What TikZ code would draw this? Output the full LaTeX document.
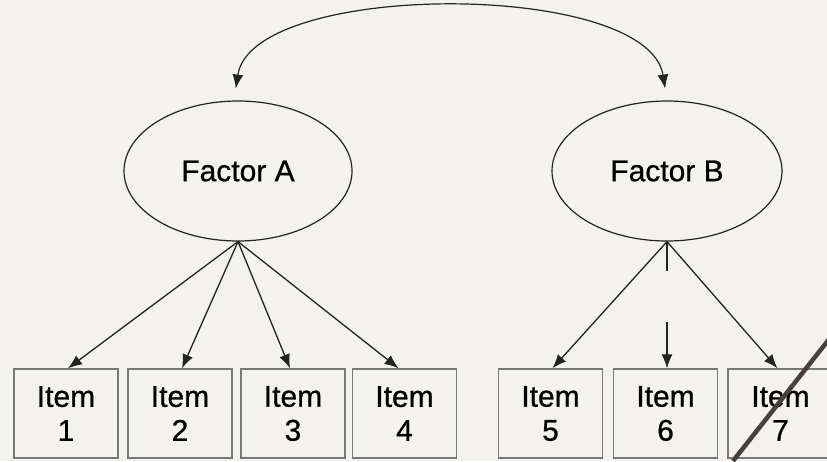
\documentclass[tikz,border=0pt]{standalone}
\usepackage{fontspec}
\setmainfont{Liberation Sans}
\newfontfamily\lblfont{Liberation Sans}[FakeBold=0.7]
\usetikzlibrary{arrows.meta,shapes.geometric}
\definecolor{bg}{RGB}{244,242,238}
\definecolor{ln}{RGB}{35,35,35}
\definecolor{bx}{RGB}{120,120,120}
\definecolor{slash}{RGB}{72,64,62}
\begin{document}
\begin{tikzpicture}[x=1pt,y=-1pt,
  factor/.style={ellipse,draw=ln,line width=1.2pt,minimum width=228pt,minimum height=140pt,inner sep=0pt,font=\lblfont\fontsize{30}{34}\selectfont},
  itembox/.style={rectangle,draw=bx,line width=1.4pt,fill=bg,minimum width=104pt,minimum height=89pt,inner sep=0pt,align=center,font=\lblfont\fontsize{30}{34}\selectfont},
  conn/.style={draw=ln,line width=1.3pt,-{Latex[length=14pt,width=11pt]}},
  plain/.style={draw=ln,line width=1.3pt}]
\fill[bg] (0,0) rectangle (827,461);
\useasboundingbox (0,0) rectangle (827,461);
\node[factor] (A) at (238,171) {Factor A};
\node[factor,minimum width=230pt] (B) at (667,171) {Factor B};
\node[itembox] (i1) at (66,413.5) {Item\\1};
\node[itembox] (i2) at (180,413.5) {Item\\2};
\node[itembox] (i3) at (293,413.5) {Item\\3};
\node[itembox] (i4) at (404.5,413.5) {Item\\4};
\node[itembox] (i5) at (550.5,413.5) {Item\\5};
\node[itembox] (i6) at (665.5,413.5) {Item\\6};
\node[itembox,minimum width=105pt] (i7) at (780.5,413.5) {Item\\7};
\draw[draw=ln,line width=1.2pt,{Latex[length=14pt,width=11pt]}-{Latex[length=14pt,width=11pt]},shorten <=12pt,shorten >=12pt]
  ([xshift=-4pt]A.north) .. controls (252,-20) and (648,-20) .. (B.north);
\draw[conn] (A.south) -- ([xshift=2pt]i1.north);
\draw[conn] (A.south) -- ([xshift=2pt]i2.north);
\draw[conn] (A.south) -- ([xshift=-3pt]i3.north);
\draw[conn] (A.south) -- ([xshift=-6pt]i4.north);
\draw[conn] (B.south) -- ([xshift=2pt]i5.north);
\coordinate (g1) at (667,271);
\coordinate (g2) at (667,322);
\draw[plain] (B.south) -- (g1);
\draw[conn] (g2) -- (i6.north -| g2);
\draw[conn] (B.south) -- ([xshift=-3pt]i7.north);
\draw[slash,line width=4.5pt] (733,461) -- (830,338);
\end{tikzpicture}
\end{document}
